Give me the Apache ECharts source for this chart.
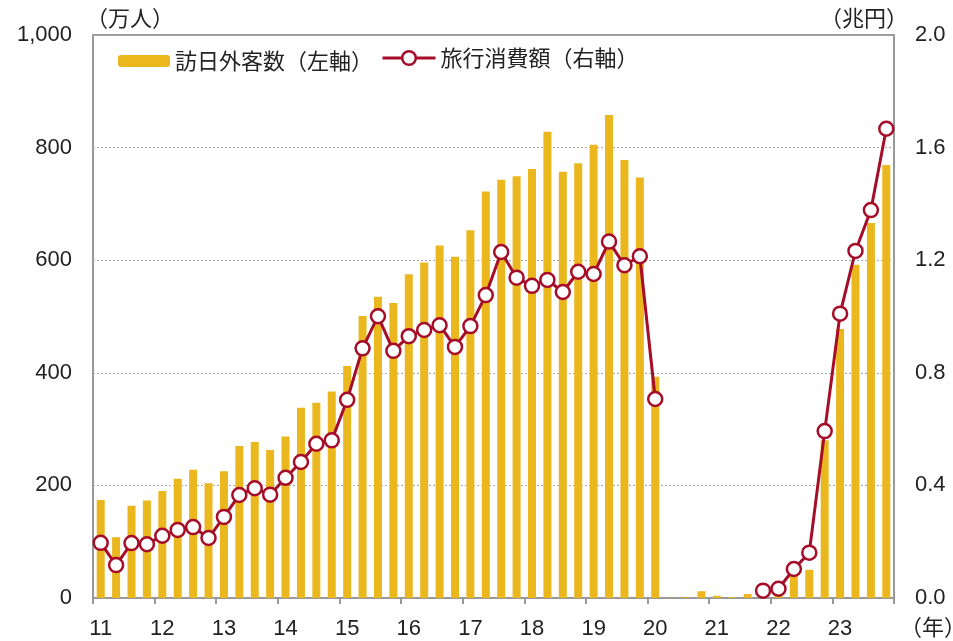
<!DOCTYPE html>
<html>
<head>
<meta charset="utf-8">
<script src="https://cdn.jsdelivr.net/npm/echarts@6/dist/echarts.min.js"></script>
<style>
html,body{margin:0;padding:0;background:#fff;}
#chart{width:953px;height:641px;}
</style>
</head>
<body>
<div id="chart"></div>
<script>
// ---- data ----
const years = ['11','12','13','14','15','16','17','18','19','20','21','22','23'];
const quarters = ['Q1','Q2','Q3','Q4'];
// 訪日外客数（万人）, quarterly 2011Q1–2023Q4
const visitors = [
  174,108,164,173,
  190,212,228,204,
  225,270,277,263,
  287,338,347,367,
  412,501,535,524,
  575,596,626,606,
  653,722,743,749,
  762,828,757,772,
  805,858,778,747,
  393,0.4,1.3,12,
  4,1.5,7,4,
  8,40,50,280,
  478,592,666,769
];
// 旅行消費額（兆円）, quarterly; null = not published
const spending = [
  0.196,0.117,0.195,0.191,
  0.221,0.242,0.252,0.213,
  0.288,0.366,0.390,0.367,
  0.427,0.483,0.548,0.560,
  0.704,0.887,1.001,0.878,
  0.930,0.952,0.969,0.892,
  0.966,1.076,1.229,1.138,
  1.109,1.130,1.087,1.159,
  1.151,1.266,1.182,1.214,
  0.707,null,null,null,
  null,null,null,0.026,
  0.033,0.103,0.161,0.593,
  1.010,1.233,1.378,1.667
];
const barName = '訪日外客数（左軸）';
const lineName = '旅行消費額（右軸）';
const leftUnit = '（万人）';
const rightUnit = '（兆円）';
const xUnit = '（年）';

const categories = [];
years.forEach(y => quarters.forEach(q => categories.push(y + q)));

const BAR = '#EAB71E';
const RED = '#A50D28';
const TXT = '#222';
const AXIS = '#999';
const FONT = '"Liberation Sans", Arial, sans-serif';
const CJK = '"Noto Sans CJK JP", sans-serif';

const chart = echarts.init(document.getElementById('chart'), null, {renderer: 'canvas'});
chart.setOption({
  animation: false,
  backgroundColor: '#fff',
  grid: {left: 93, right: 59, top: 35, bottom: 43, show: true, borderColor: AXIS, borderWidth: 2, backgroundColor: 'transparent'},
  legend: [
    {
      data: [barName], left: 113, top: 45, itemWidth: 52, itemHeight: 12, itemGap: 8,
      textStyle: {fontFamily: CJK, fontSize: 22, color: TXT}
    },
    {
      data: [lineName], left: 376, top: 42, itemWidth: 53, itemHeight: 17,
      lineStyle: {width: 3, color: RED},
      itemStyle: {color: '#fff', borderColor: RED, borderWidth: 2.5},
      textStyle: {fontFamily: CJK, fontSize: 22, color: TXT}
    }
  ],
  xAxis: {
    type: 'category',
    data: categories,
    boundaryGap: true,
    axisLine: {show: true, lineStyle: {color: AXIS, width: 2}},
    axisTick: {show: true, interval: 3, length: 6, lineStyle: {color: AXIS, width: 2}},
    axisLabel: {
      interval: 3, margin: 20,
      fontFamily: FONT, fontSize: 22, color: TXT,
      formatter: v => v.slice(0, 2)
    },
    splitLine: {show: false}
  },
  yAxis: [
    {
      type: 'value', min: 0, max: 1000, interval: 200, position: 'left',
      axisLine: {show: false}, axisTick: {show: false},
      axisLabel: {margin: 21, fontFamily: FONT, fontSize: 22, color: TXT,
        formatter: v => v.toLocaleString('en-US')},
      splitLine: {show: true, lineStyle: {color: '#aaa', type: [2, 2], width: 1}}
    },
    {
      type: 'value', min: 0, max: 2.0, interval: 0.4, position: 'right',
      axisLine: {show: false}, axisTick: {show: false},
      axisLabel: {margin: 21, fontFamily: FONT, fontSize: 22, color: TXT,
        formatter: v => v.toFixed(1)},
      splitLine: {show: false}
    }
  ],
  series: [
    {
      name: barName, type: 'bar', data: visitors, yAxisIndex: 0,
      barWidth: 8, itemStyle: {color: BAR}
    },
    {
      name: lineName, type: 'line', data: spending, yAxisIndex: 1,
      connectNulls: false, showAllSymbol: true,
      symbol: 'circle', symbolSize: 14,
      lineStyle: {color: RED, width: 3},
      itemStyle: {color: '#fff', borderColor: RED, borderWidth: 2.5},
      z: 5
    }
  ],
  graphic: [
    {type: 'text', left: 86, top: 7, style: {text: leftUnit, font: '22px ' + CJK, fill: TXT}},
    {type: 'text', left: 820, top: 7, style: {text: rightUnit, font: '22px ' + CJK, fill: TXT}},
    {type: 'text', left: 900, top: 616, style: {text: xUnit, font: '22px ' + CJK, fill: TXT}}
  ]
});
</script>
</body>
</html>
